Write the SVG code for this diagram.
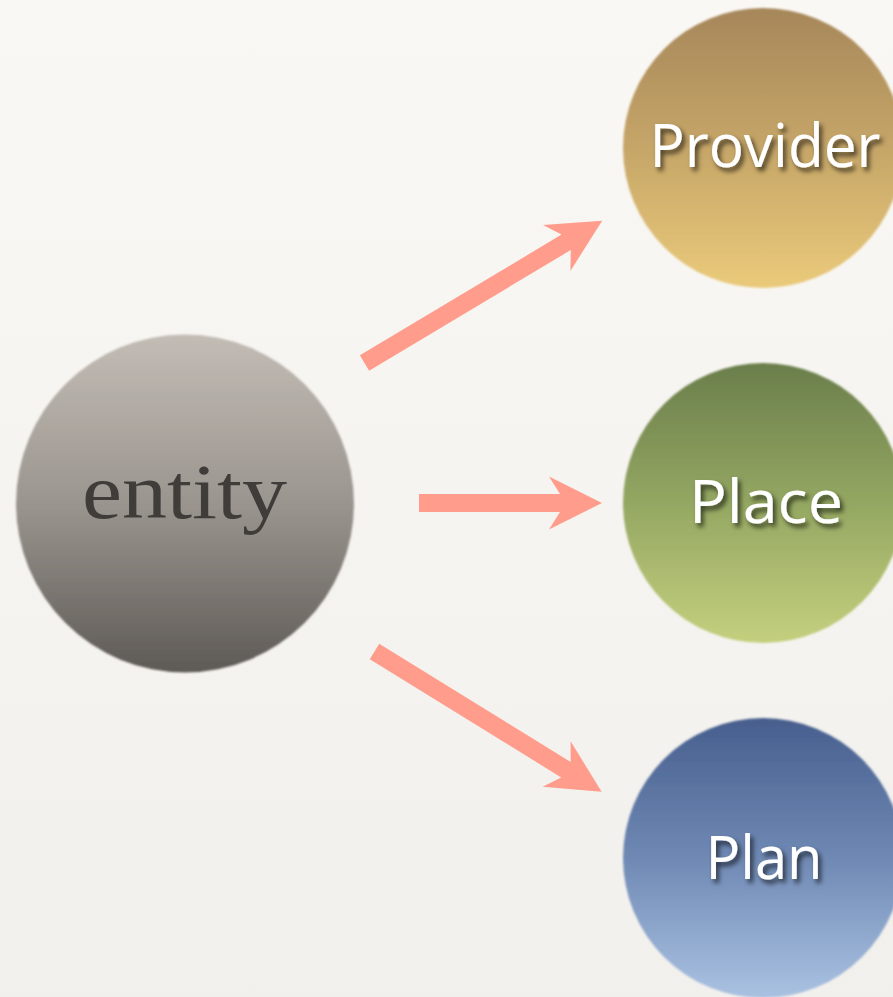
<svg xmlns="http://www.w3.org/2000/svg" xmlns:xlink="http://www.w3.org/1999/xlink" width="893" height="997" viewBox="0 0 893 997">
<style>
.lbl{font-family:"Open Sans","Noto Sans","DejaVu Sans",sans-serif;font-size:60px;fill:#ffffff;text-anchor:middle;filter:url(#ts)}
.ent{font-family:"Liberation Serif","Times New Roman",serif;font-size:78px;fill:#3f3c3a;text-anchor:middle}
.arrow{fill:#ff9c8b}
</style>
<defs>
<linearGradient id="bg" x1="0" y1="0" x2="0" y2="1">
<stop offset="0" stop-color="#faf8f4"/>
<stop offset="1" stop-color="#f2f0ec"/>
</linearGradient>
<linearGradient id="gEnt" x1="0" y1="0" x2="0" y2="1">
<stop offset="0" stop-color="#c2bcb5"/>
<stop offset="0.5" stop-color="#9b958f"/>
<stop offset="1" stop-color="#5e5a56"/>
</linearGradient>
<linearGradient id="gProv" x1="0" y1="0" x2="0" y2="1">
<stop offset="0" stop-color="#a6875a"/>
<stop offset="0.5" stop-color="#c6a668"/>
<stop offset="1" stop-color="#eaca7a"/>
</linearGradient>
<linearGradient id="gPlace" x1="0" y1="0" x2="0" y2="1">
<stop offset="0" stop-color="#6a7e4c"/>
<stop offset="0.5" stop-color="#94a762"/>
<stop offset="1" stop-color="#c4d07e"/>
</linearGradient>
<linearGradient id="gPlan" x1="0" y1="0" x2="0" y2="1">
<stop offset="0" stop-color="#475f8e"/>
<stop offset="0.5" stop-color="#6f89b4"/>
<stop offset="1" stop-color="#aac2e2"/>
</linearGradient>
<filter id="ts" x="-20%" y="-40%" width="140%" height="180%">
<feDropShadow dx="3" dy="4" stdDeviation="2.5" flood-color="#000000" flood-opacity="0.65"/>
</filter>
<filter id="soft" x="-5%" y="-5%" width="110%" height="110%">
<feGaussianBlur stdDeviation="0.8"/>
</filter>
</defs>
<rect x="0" y="0" width="893" height="997" fill="url(#bg)"/>
<g id="connectors">
<polygon class="arrow" transform="translate(364.5,363) rotate(-30.9)" points="0,-9 235,-9 224,-26.7 277,0 224,26.7 235,9 0,9"/>
<polygon class="arrow" transform="translate(419,503)" points="0,-9 141,-9 130,-26.5 183,0 130,26.5 141,9 0,9"/>
<polygon class="arrow" transform="translate(374.5,651.5) rotate(31.7)" points="0,-9 225,-9 214,-26.7 267,0 214,26.7 225,9 0,9"/>
</g>
<g id="entity">
<circle cx="185" cy="503.5" r="169" fill="url(#gEnt)" filter="url(#soft)"/>
<text class="ent" x="184.5" y="518" textLength="205" lengthAdjust="spacingAndGlyphs">entity</text>
</g>
<g id="provider">
<circle cx="763" cy="148" r="140" fill="url(#gProv)" filter="url(#soft)"/>
<text class="lbl" x="765" y="167" textLength="231" lengthAdjust="spacingAndGlyphs">Provider</text>
</g>
<g id="place">
<circle cx="763" cy="503" r="140" fill="url(#gPlace)" filter="url(#soft)"/>
<text class="lbl" x="766" y="523" textLength="154" lengthAdjust="spacingAndGlyphs">Place</text>
</g>
<g id="plan">
<circle cx="763" cy="858" r="140" fill="url(#gPlan)" filter="url(#soft)"/>
<text class="lbl" x="764" y="879" textLength="117" lengthAdjust="spacingAndGlyphs">Plan</text>
</g>
</svg>
